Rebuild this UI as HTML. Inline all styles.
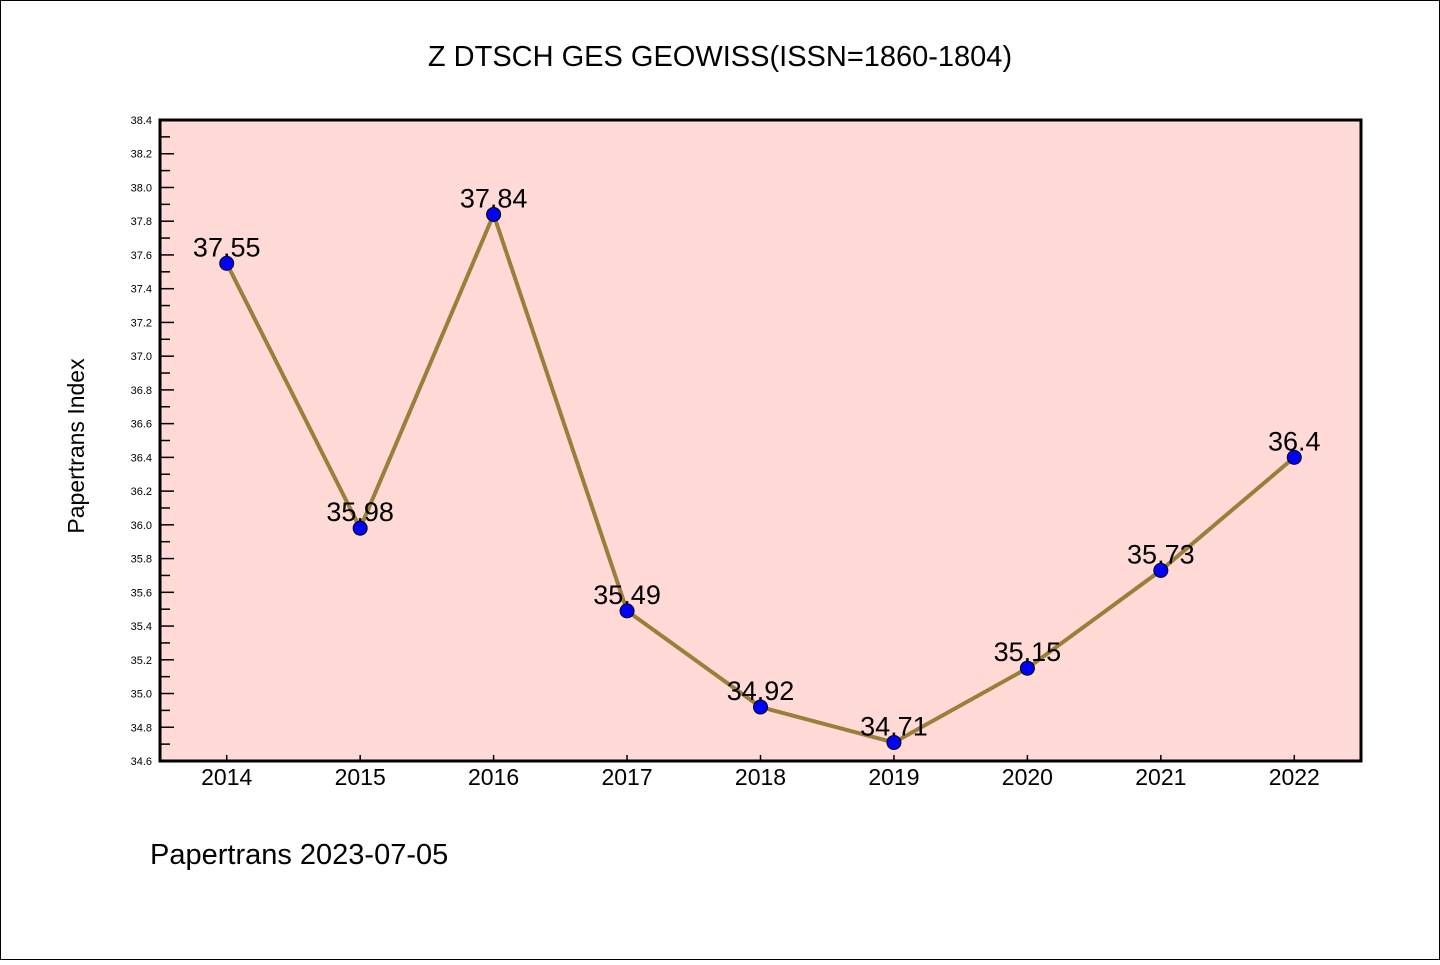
<!DOCTYPE html>
<html><head><meta charset="utf-8"><style>
body{margin:0;background:#fff}
svg text{font-family:"WenQuanYi Zen Hei","Liberation Sans",sans-serif}
</style></head><body>
<svg width="1440" height="960" viewBox="0 0 1440 960">
<rect x="0.5" y="0.5" width="1439" height="959" fill="#fff" stroke="#000"/>
<text x="720" y="66" font-size="29" text-anchor="middle">Z DTSCH GES GEOWISS(ISSN=1860-1804)</text>
<rect x="160" y="120" width="1201" height="641" fill="#ffdad7"/>
<g id="axes"></g>
<g id="series"></g>
<rect x="160" y="120" width="1201" height="641" fill="none" stroke="#000" stroke-width="3"/>
<text x="84" y="446" font-size="23" text-anchor="middle" transform="rotate(-90 84 446)">Papertrans Index</text>
<text x="150" y="864" font-size="29">Papertrans 2023-07-05</text>
</svg>
<script>
const years=[2014,2015,2016,2017,2018,2019,2020,2021,2022];
const values=[37.55,35.98,37.84,35.49,34.92,34.71,35.15,35.73,36.4];
const labels=["37.55","35.98","37.84","35.49","34.92","34.71","35.15","35.73","36.4"];
const yMin=34.6,yMax=38.4;
const L=160,R=1361,T=120,B=761;
const NS="http://www.w3.org/2000/svg";
function xs(i){return L+(i+0.5)*(R-L)/years.length;}
function ys(v){return B-(v-yMin)/(yMax-yMin)*(B-T);}
function mk(tag,attrs,parent){const e=document.createElementNS(NS,tag);for(const k in attrs)e.setAttribute(k,attrs[k]);parent.appendChild(e);return e;}
const ax=document.getElementById('axes');
for(let k=0;k<=38;k++){
  const v=yMin+k*0.1;const y=ys(v);const major=k%2===0;
  const t=mk('line',{x1:L,x2:L+(major?14:10),y1:y,y2:y,stroke:'#000','stroke-width':1.5},ax);
  
  
  if(major){const tx=mk('text',{x:152,y:y+4,'font-size':11,'text-anchor':'end'},ax);tx.textContent=v.toFixed(1);
  
  }
}
years.forEach((yr,i)=>{
  const x=xs(i);
  const t=mk('line',{x1:x,x2:x,y1:B,y2:B-6,stroke:'#000','stroke-width':1.5},ax);
  
  
  const tx=mk('text',{x:x,y:785,'font-size':23,'text-anchor':'middle'},ax);tx.textContent=yr;
  
  
});
const s=document.getElementById('series');
const pl=mk('polyline',{points:values.map((v,i)=>xs(i)+','+ys(v)).join(' '),fill:'none',stroke:'#9a7f3a','stroke-width':4},s);


values.forEach((v,i)=>{
  const c=mk('circle',{cx:xs(i),cy:ys(v),r:7,fill:'#0000ff',stroke:'#000','stroke-width':1},s);
  
  
  const t=mk('text',{x:xs(i),y:ys(v)-7,'font-size':27,'text-anchor':'middle'},s);t.textContent=labels[i];
  
  
});
</script>
</body></html>
